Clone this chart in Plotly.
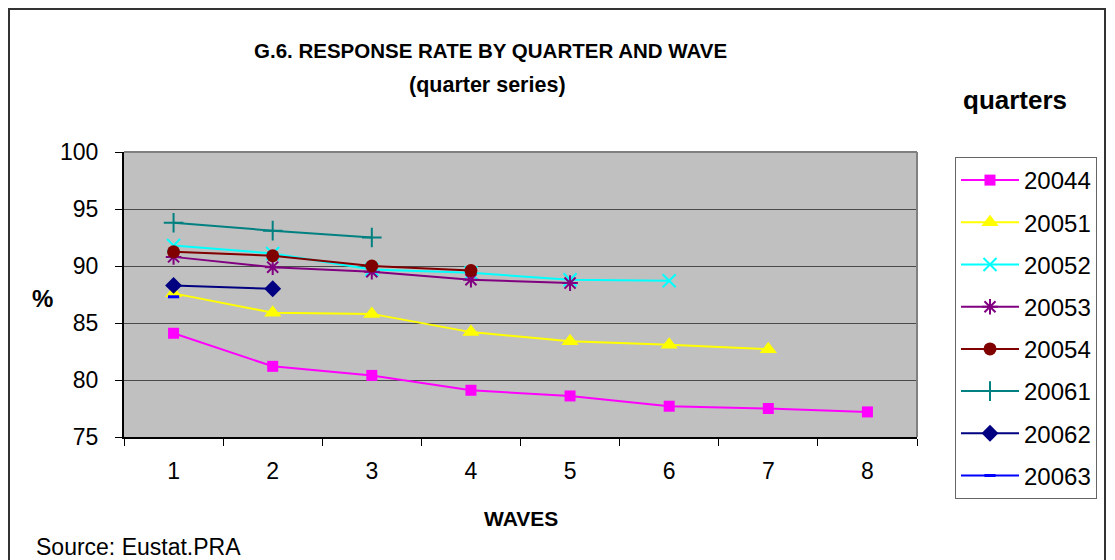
import plotly.graph_objects as go

# ---- data ----
waves = ["1", "2", "3", "4", "5", "6", "7", "8"]
quarters = ["20044", "20051", "20052", "20053", "20054", "20061", "20062", "20063"]
q20044 = [84.1, 81.2, 80.4, 79.1, 78.6, 77.7, 77.5, 77.2]
q20051 = [87.6, 85.9, 85.8, 84.2, 83.4, 83.1, 82.7]
q20052 = [91.8, 91.1, 89.7, 89.4, 88.8, 88.7]
q20053 = [90.8, 89.9, 89.5, 88.8, 88.5]
q20054 = [91.25, 90.9, 90.0, 89.6]
q20061 = [93.8, 93.1, 92.5]
q20062 = [88.3, 88.0]
q20063 = [87.3]

series = [q20044, q20051, q20052, q20053, q20054, q20061, q20062, q20063]
colors = ["#FF00FF", "#FFFF00", "#00FFFF", "#800080", "#800000", "#008080", "#000080", "#0000FF"]
symbols = ["square", "triangle-up", "x-thin-open", "asterisk-open", "circle", "cross-thin-open", "diamond", "line-ew-open"]
sizes = [11, 15, 13, 13, 13, 14, 13, 8]

W, H = 1115, 560
L, R, T, B = 124, 917, 152, 437
FONT = "Liberation Sans, Arial, sans-serif"


def xp(px):
    return (px - L) / (R - L)


def yp(py):
    return (B - py) / (B - T)


fig = go.Figure()
for name, vals, c, s, sz in zip(quarters, series, colors, symbols, sizes):
    mline = dict(width=2, color=c) if "open" in s else dict(width=0)
    if s == "line-ew-open":
        mline = dict(width=3, color=c)
    fig.add_trace(go.Scatter(
        x=waves[:len(vals)], y=vals, name=name, mode="lines+markers",
        legendgroup=name,
        line=dict(color=c, width=2),
        marker=dict(symbol=s, size=sz, color=c, line=mline),
    ))

fig.update_layout(
    width=W, height=H,
    margin=dict(l=L, r=W - R, t=T, b=H - B),
    paper_bgcolor="white",
    plot_bgcolor="#C0C0C0",
    font=dict(family=FONT, size=23, color="black"),
    showlegend=True,
    legend=dict(
        x=xp(955), y=yp(157), xanchor="left", yanchor="top",
        bgcolor="white", bordercolor="#666666", borderwidth=1,
        font=dict(size=24), tracegroupgap=8,
        itemwidth=58, maxheight=600,
    ),
    xaxis=dict(
        type="category", categoryorder="array", categoryarray=waves,
        range=[-0.5, 7.5], tickson="boundaries",
        showline=True, linecolor="black", linewidth=2,
        ticks="outside", ticklen=7, tickcolor="black", tickwidth=1,
        showgrid=False, zeroline=False, ticklabelstandoff=12,
        tickfont=dict(size=23),
    ),
    yaxis=dict(
        range=[75, 100], dtick=5, tick0=75,
        showline=True, linecolor="black", linewidth=2,
        ticks="outside", ticklen=7, tickcolor="black", tickwidth=1,
        showgrid=True, gridcolor="#4a4a4a", gridwidth=1,
        zeroline=False, ticklabelstandoff=12,
        tickfont=dict(size=23),
    ),
    shapes=[
        # outer chart border
        dict(type="rect", xref="paper", yref="paper",
             x0=xp(9), x1=xp(1105), y0=yp(575), y1=yp(9),
             line=dict(color="#333333", width=2), fillcolor="rgba(0,0,0,0)", layer="above"),
        # plot-area top and right border
        dict(type="line", xref="paper", yref="paper", x0=0, x1=1, y0=1, y1=1,
             line=dict(color="#808080", width=2)),
        dict(type="line", xref="paper", yref="paper", x0=1, x1=1, y0=0, y1=1,
             line=dict(color="#808080", width=2)),
    ],
    annotations=[
        dict(text="<b>G.6. RESPONSE RATE BY QUARTER AND WAVE</b>", xref="paper", yref="paper",
             x=xp(490), y=yp(50), xanchor="center", yanchor="middle", showarrow=False,
             font=dict(size=20.5)),
        dict(text="<b>(quarter series)</b>", xref="paper", yref="paper",
             x=xp(487), y=yp(85), xanchor="center", yanchor="middle", showarrow=False,
             font=dict(size=21.5)),
        dict(text="<b>quarters</b>", xref="paper", yref="paper",
             x=xp(1015), y=yp(100), xanchor="center", yanchor="middle", showarrow=False,
             font=dict(size=26)),
        dict(text="<b>%</b>", xref="paper", yref="paper",
             x=xp(42), y=yp(298), xanchor="center", yanchor="middle", showarrow=False,
             font=dict(size=24)),
        dict(text="<b>WAVES</b>", xref="paper", yref="paper",
             x=xp(521), y=yp(518), xanchor="center", yanchor="middle", showarrow=False,
             font=dict(size=21)),
        dict(text="Source: Eustat.PRA", xref="paper", yref="paper",
             x=xp(34), y=yp(547), xanchor="left", yanchor="middle", showarrow=False,
             font=dict(size=23)),
    ],
)

fig.write_html(
    "out.html",
    config={"displayModeBar": False},
    post_script="document.body.style.margin='0';document.body.style.overflow='hidden';",
)
